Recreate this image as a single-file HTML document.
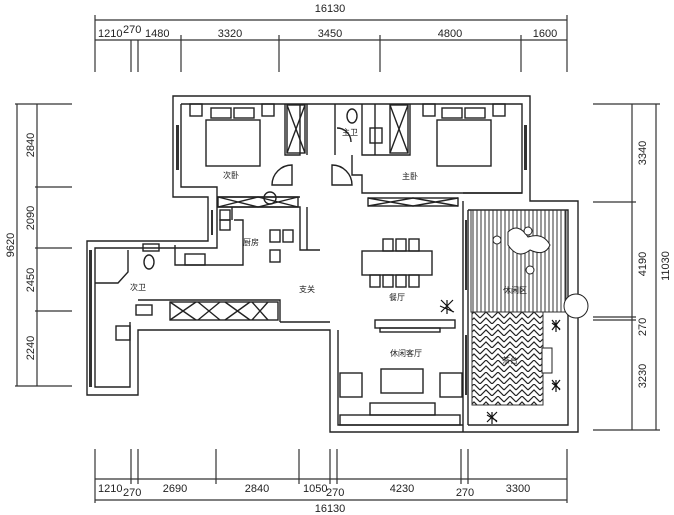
<!DOCTYPE html>
<html><head><meta charset="utf-8"><style>
html,body{margin:0;padding:0;background:#fff;}
svg{display:block;}
text{font-family:"Liberation Sans","Noto Sans CJK SC",sans-serif;fill:#222;}
.t{font-size:8px;}
.d{font-size:11px;}
</style></head><body>
<svg width="674" height="515" viewBox="0 0 674 515" xmlns="http://www.w3.org/2000/svg">
<defs>
<pattern id="stripe" width="4" height="10" patternUnits="userSpaceOnUse"><line x1="1" y1="0" x2="1" y2="10" stroke="#333" stroke-width="1"/></pattern>
<pattern id="herr" width="12" height="12" patternUnits="userSpaceOnUse"><path d="M0 6 L6 0 L12 6 M0 12 L6 6 L12 12" fill="none" stroke="#222" stroke-width="1.2"/></pattern>
</defs>
<g stroke="#333" stroke-width="1.2" fill="none">
<line x1="95" y1="20" x2="567" y2="20"/>
<line x1="95" y1="40" x2="567" y2="40"/>
<line x1="95" y1="15" x2="95" y2="72"/><line x1="567" y1="15" x2="567" y2="72"/>
<line x1="131" y1="40" x2="131" y2="72"/><line x1="138" y1="40" x2="138" y2="72"/>
<line x1="181" y1="35" x2="181" y2="72"/><line x1="279" y1="35" x2="279" y2="72"/>
<line x1="380" y1="35" x2="380" y2="72"/><line x1="521" y1="35" x2="521" y2="72"/>
<line x1="95" y1="479" x2="567" y2="479"/>
<line x1="95" y1="500" x2="567" y2="500"/>
<line x1="95" y1="449" x2="95" y2="503"/><line x1="567" y1="449" x2="567" y2="503"/>
<line x1="131" y1="449" x2="131" y2="484"/><line x1="138" y1="449" x2="138" y2="484"/>
<line x1="216" y1="449" x2="216" y2="484"/><line x1="299" y1="449" x2="299" y2="484"/>
<line x1="330" y1="449" x2="330" y2="484"/><line x1="337" y1="449" x2="337" y2="484"/>
<line x1="461" y1="449" x2="461" y2="484"/><line x1="468" y1="449" x2="468" y2="484"/>
<line x1="17" y1="104" x2="17" y2="386"/><line x1="37" y1="104" x2="37" y2="386"/>
<line x1="15" y1="104" x2="72" y2="104"/><line x1="15" y1="386" x2="72" y2="386"/>
<line x1="35" y1="187" x2="72" y2="187"/><line x1="35" y1="248" x2="72" y2="248"/><line x1="35" y1="311" x2="72" y2="311"/>
<line x1="632" y1="104" x2="632" y2="430"/><line x1="656" y1="104" x2="656" y2="430"/>
<line x1="593" y1="104" x2="660" y2="104"/><line x1="593" y1="430" x2="660" y2="430"/>
<line x1="593" y1="202" x2="636" y2="202"/><line x1="593" y1="317" x2="636" y2="317"/><line x1="593" y1="320" x2="636" y2="320"/>
</g>
<g class="d">
<text x="330" y="12" text-anchor="middle">16130</text>
<text x="98" y="37">1210</text><text x="123" y="33">270</text><text x="145" y="37">1480</text>
<text x="230" y="37" text-anchor="middle">3320</text><text x="330" y="37" text-anchor="middle">3450</text>
<text x="450" y="37" text-anchor="middle">4800</text><text x="545" y="37" text-anchor="middle">1600</text>
<text x="98" y="492">1210</text><text x="123" y="496">270</text><text x="175" y="492" text-anchor="middle">2690</text>
<text x="257" y="492" text-anchor="middle">2840</text><text x="303" y="492">1050</text><text x="326" y="496">270</text>
<text x="402" y="492" text-anchor="middle">4230</text><text x="465" y="496" text-anchor="middle">270</text>
<text x="518" y="492" text-anchor="middle">3300</text>
<text x="330" y="512" text-anchor="middle">16130</text>
<text transform="translate(14,245) rotate(-90)" text-anchor="middle">9620</text>
<text transform="translate(34,145) rotate(-90)" text-anchor="middle">2840</text>
<text transform="translate(34,218) rotate(-90)" text-anchor="middle">2090</text>
<text transform="translate(34,280) rotate(-90)" text-anchor="middle">2450</text>
<text transform="translate(34,348) rotate(-90)" text-anchor="middle">2240</text>
<text transform="translate(646,153) rotate(-90)" text-anchor="middle">3340</text>
<text transform="translate(646,264) rotate(-90)" text-anchor="middle">4190</text>
<text transform="translate(646,327) rotate(-90)" text-anchor="middle">270</text>
<text transform="translate(646,376) rotate(-90)" text-anchor="middle">3230</text>
<text transform="translate(669,266) rotate(-90)" text-anchor="middle">11030</text>
</g>
<g fill="#333">
<rect x="89" y="250" width="3" height="137"/>
<rect x="176" y="125" width="3" height="45"/>
<rect x="524" y="125" width="3" height="45"/>
<rect x="465" y="220" width="2" height="70"/>
<rect x="465" y="335" width="2" height="60"/>
<rect x="211" y="210" width="2" height="25"/>
</g>
<g stroke="#222" stroke-width="1.4" fill="none">
<path d="M173 96 H530 V201 H578 V432 H330 V330 H138 V395 H87 V241 H208 V197 H173 Z"/>
<path d="M181 104 H522 V193 H463"/>
<path d="M181 104 V187 H217 V248 H95 V387 H130 V322"/>
<path d="M463 201 V432 M468 210 V425 M468 210 H568 V425 H468"/>
<path d="M338 330 V425 H463"/>
<path d="M217 197 H300 M217 207 H300 V233 M307 207 V250 M300 233 V250 H320"/>
<path d="M285 104 V155 H300 V104 M307 104 V155 M335 104 V155 M362 104 V155 H375 V104 M375 155 H410 V104"/>
<path d="M352 155 V175 H362 V193 H522"/>
<path d="M232 207 V220 M234 220 H243 V265 H175 V245"/>
<path d="M170 300 H280 V322 M138 300 H170 M280 322 H330"/>
<path d="M272 185 A20 20 0 0 1 292 165 V185 Z"/>
<path d="M332 165 A20 20 0 0 1 352 185 H332 Z"/>
<path d="M337 128 A14 14 0 0 1 351 142"/>
<rect x="287" y="105" width="18" height="48"/><path d="M287 105 L305 153 M305 105 L287 153"/>
<rect x="390" y="105" width="18" height="48"/><path d="M390 105 L408 153 M408 105 L390 153"/>
<rect x="218" y="197" width="80" height="10"/><path d="M218 197 L258 207 L298 197 M218 207 L258 197 L298 207"/>
<rect x="368" y="198" width="90" height="8"/><path d="M368 198 L413 206 L458 198 M368 206 L413 198 L458 206"/>
<rect x="170" y="302" width="108" height="18"/>
<path d="M170 302 L196 320 M196 302 L170 320 M198 302 L220 320 M220 302 L198 320 M225 302 L250 320 M250 302 L225 320 M252 302 L268 320 M268 302 L252 320"/>
<rect x="340" y="415" width="120" height="10"/>
<rect x="206" y="120" width="54" height="46"/><rect x="211" y="108" width="20" height="10"/><rect x="234" y="108" width="20" height="10"/>
<rect x="190" y="104" width="12" height="12"/><rect x="262" y="104" width="12" height="12"/>
<rect x="437" y="120" width="54" height="46"/><rect x="442" y="108" width="20" height="10"/><rect x="465" y="108" width="20" height="10"/>
<rect x="423" y="104" width="12" height="12"/><rect x="493" y="104" width="12" height="12"/>
<rect x="362" y="251" width="70" height="24"/>
<rect x="383" y="239" width="10" height="12"/><rect x="396" y="239" width="10" height="12"/><rect x="409" y="239" width="10" height="12"/>
<rect x="370" y="275" width="10" height="12"/><rect x="383" y="275" width="10" height="12"/><rect x="396" y="275" width="10" height="12"/><rect x="409" y="275" width="10" height="12"/>
<rect x="270" y="230" width="10" height="12"/><rect x="270" y="250" width="10" height="12"/><rect x="283" y="230" width="10" height="12"/>
<rect x="375" y="320" width="80" height="8"/><rect x="380" y="328" width="60" height="4"/>
<rect x="381" y="369" width="42" height="24"/>
<rect x="340" y="373" width="22" height="24"/><rect x="440" y="373" width="22" height="24"/>
<rect x="370" y="403" width="65" height="12"/>
<ellipse cx="352" cy="116" rx="5" ry="7"/><rect x="370" y="128" width="12" height="15"/>
<ellipse cx="149" cy="262" rx="5" ry="7"/><rect x="143" y="244" width="16" height="7"/>
<rect x="136" y="305" width="16" height="10"/><rect x="116" y="326" width="14" height="14"/>
<path d="M95 283 H118 L128 272 V250"/>
<rect x="185" y="254" width="20" height="11"/>
<rect x="220" y="210" width="10" height="10"/><rect x="220" y="220" width="10" height="10"/>
<circle cx="270" cy="198" r="6"/>
</g>
<rect x="471" y="210" width="95" height="102" fill="url(#stripe)" stroke="#333"/>
<rect x="472" y="312" width="71" height="93" fill="url(#herr)" stroke="#333"/>
<g stroke="#222" stroke-width="1" fill="#fff">
<circle cx="576" cy="306" r="12"/>
<path d="M508 232 q10 -10 20 5 q15 -5 22 8 q-5 12 -20 5 q-12 10 -22 -5 z"/>
<circle cx="497" cy="240" r="4"/><circle cx="528" cy="231" r="4"/><circle cx="530" cy="270" r="4"/>
<rect x="542" y="348" width="10" height="25"/>
</g>
<g stroke="#111" stroke-width="1.2">
<path d="M440 306 l14 6 M447 300 l0 14 M441 300 l12 12 M453 300 l-12 12"/>
<path d="M487 415 l10 6 M492 412 v12 M487 412 l10 10 M497 412 l-10 10"/>
<path d="M552 323 l8 6 M556 320 v12 M552 320 l8 10 M560 320 l-8 10"/>
<path d="M552 383 l8 6 M556 380 v12 M552 380 l8 10 M560 380 l-8 10"/>
</g>
<g class="t">
<text x="231" y="178" text-anchor="middle">次卧</text>
<text x="410" y="179" text-anchor="middle">主卧</text>
<text x="350" y="135" text-anchor="middle">主卫</text>
<text x="251" y="245" text-anchor="middle">厨房</text>
<text x="307" y="292" text-anchor="middle">支关</text>
<text x="397" y="300" text-anchor="middle">餐厅</text>
<text x="406" y="356" text-anchor="middle">休闲客厅</text>
<text x="138" y="290" text-anchor="middle">次卫</text>
<text x="515" y="293" text-anchor="middle">休闲区</text>
<text x="510" y="363" text-anchor="middle">茶台</text>
</g>
</svg>
</body></html>
